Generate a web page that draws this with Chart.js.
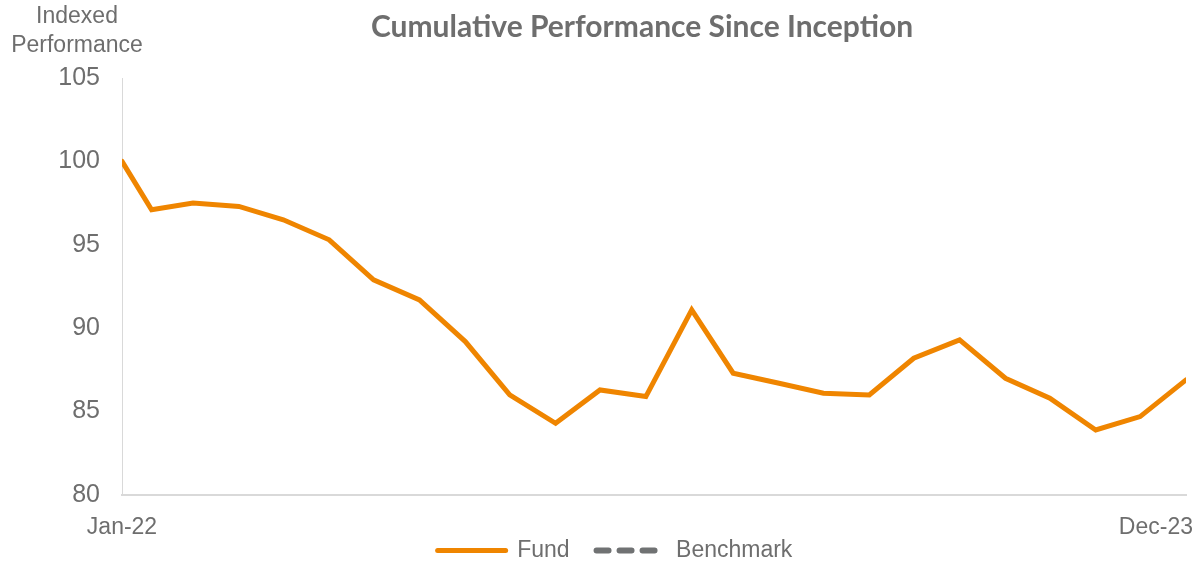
<!DOCTYPE html>
<html>
<head>
<meta charset="utf-8">
<script src="https://cdn.jsdelivr.net/npm/chart.js@4"></script>
<style>
    html, body { margin: 0; padding: 0; background: #fff; }
    #wrap { width: 1196px; height: 562px; position: relative; }
</style>
</head>
<body>
<div id="wrap"><canvas id="perfChart"></canvas></div>
<script>
// Datos (inicio + cierres de mes)
const fechas = [
    '2022-01-11', '2022-01-31', '2022-02-28', '2022-03-31', '2022-04-30', '2022-05-31',
    '2022-06-30', '2022-07-31', '2022-08-31', '2022-09-30', '2022-10-31', '2022-11-30',
    '2022-12-31', '2023-01-31', '2023-02-28', '2023-03-31', '2023-04-30', '2023-05-31',
    '2023-06-30', '2023-07-31', '2023-08-31', '2023-09-30', '2023-10-31', '2023-11-30',
    '2023-12-31'
];
const fundValues = [
    100, 97.1, 97.5, 97.3, 96.5, 95.3, 92.9, 91.7, 89.2, 86.0, 84.3, 86.3,
    85.9, 91.1, 87.3, 86.7, 86.1, 86.0, 88.2, 89.3, 87.0, 85.8, 83.9, 84.7, 86.9
];
const benchmarkValues = [];
const yTicks = [80, 85, 90, 95, 100, 105];
const xTickLabels = ['Jan-22', 'Dec-23'];
const seriesNames = ['Fund', 'Benchmark'];
const chartTitle = 'Cumulative Performance Since Inception';
const yAxisTitle = ['Indexed', 'Performance'];

const textColor = '#6e6e6e';
const axisColor = '#d9d9d9';

// días desde el inicio -> eje lineal
const inicio = Date.parse(fechas[0]);
const dias = fechas.map(f => Math.round((Date.parse(f) - inicio) / 86400000));

// Textos fuera del área (título, título del eje Y, extremos del eje X)
const overlayText = {
    id: 'overlayText',
    afterDraw(chart) {
        const { ctx, scales } = chart;
        ctx.save();
        ctx.fillStyle = textColor;
        ctx.textBaseline = 'middle';
        ctx.textAlign = 'center';

        ctx.font = 'bold 30px Lato';
        ctx.fillText(chartTitle, 642, 27);

        ctx.font = '23px "Liberation Sans"';
        ctx.fillText(yAxisTitle[0], 77, 17);
        ctx.fillText(yAxisTitle[1], 77, 46);

        const x0 = scales.x.getPixelForValue(dias[0]);
        ctx.fillText(xTickLabels[0], x0, 528);
        ctx.textAlign = 'right';
        ctx.fillText(xTickLabels[1], chart.width - 3, 528);
        ctx.restore();
    }
};

new Chart(document.getElementById('perfChart'), {
    type: 'line',
    data: {
        datasets: [
            {
                label: seriesNames[0],
                data: fundValues.map((v, i) => ({ x: dias[i], y: v })),
                borderColor: '#ef8500',
                backgroundColor: '#ef8500',
                borderWidth: 5,
                borderCapStyle: 'round',
                pointRadius: 0,
                tension: 0
            },
            {
                label: seriesNames[1],
                data: benchmarkValues,
                borderColor: '#707273',
                backgroundColor: '#707273',
                borderWidth: 6,
                borderDash: [12, 11],
                borderCapStyle: 'round',
                pointRadius: 0
            }
        ]
    },
    options: {
        responsive: true,
        maintainAspectRatio: false,
        animation: false,
        layout: { padding: { top: 78, left: 44, right: 10, bottom: 0 } },
        plugins: {
            title: { display: false },
            tooltip: { enabled: false },
            legend: {
                position: 'bottom',
                maxHeight: 50,
                labels: {
                    usePointStyle: true,
                    pointStyle: 'line',
                    pointStyleWidth: 68,
                    boxHeight: 5,
                    padding: 27,
                    color: textColor,
                    font: { family: 'Liberation Sans', size: 23 },
                    generateLabels(chart) {
                        const items = Chart.defaults.plugins.legend.labels.generateLabels(chart);
                        items.forEach(item => {
                            const ds = chart.data.datasets[item.datasetIndex];
                            item.lineDash = ds.borderDash || [];
                            item.lineWidth = ds.borderWidth;
                            item.lineCap = 'round';
                            item.strokeStyle = ds.borderColor;
                        });
                        return items;
                    }
                }
            }
        },
        scales: {
            x: {
                type: 'linear',
                min: dias[0],
                max: dias[dias.length - 1],
                grid: { display: false },
                border: { display: true, color: axisColor, width: 2 },
                ticks: { display: false },
                afterFit(scale) { scale.height = 17; }
            },
            y: {
                min: yTicks[0],
                max: yTicks[yTicks.length - 1],
                grid: { display: false, drawTicks: false },
                border: { display: true, color: axisColor, width: 1 },
                afterBuildTicks(scale) { scale.ticks = yTicks.map(v => ({ value: v })); },
                ticks: {
                    padding: 22,
                    color: textColor,
                    font: { family: 'Liberation Sans', size: 25 }
                },
                afterFit(scale) { scale.width = 78; }
            }
        }
    },
    plugins: [overlayText]
});
</script>
</body>
</html>
